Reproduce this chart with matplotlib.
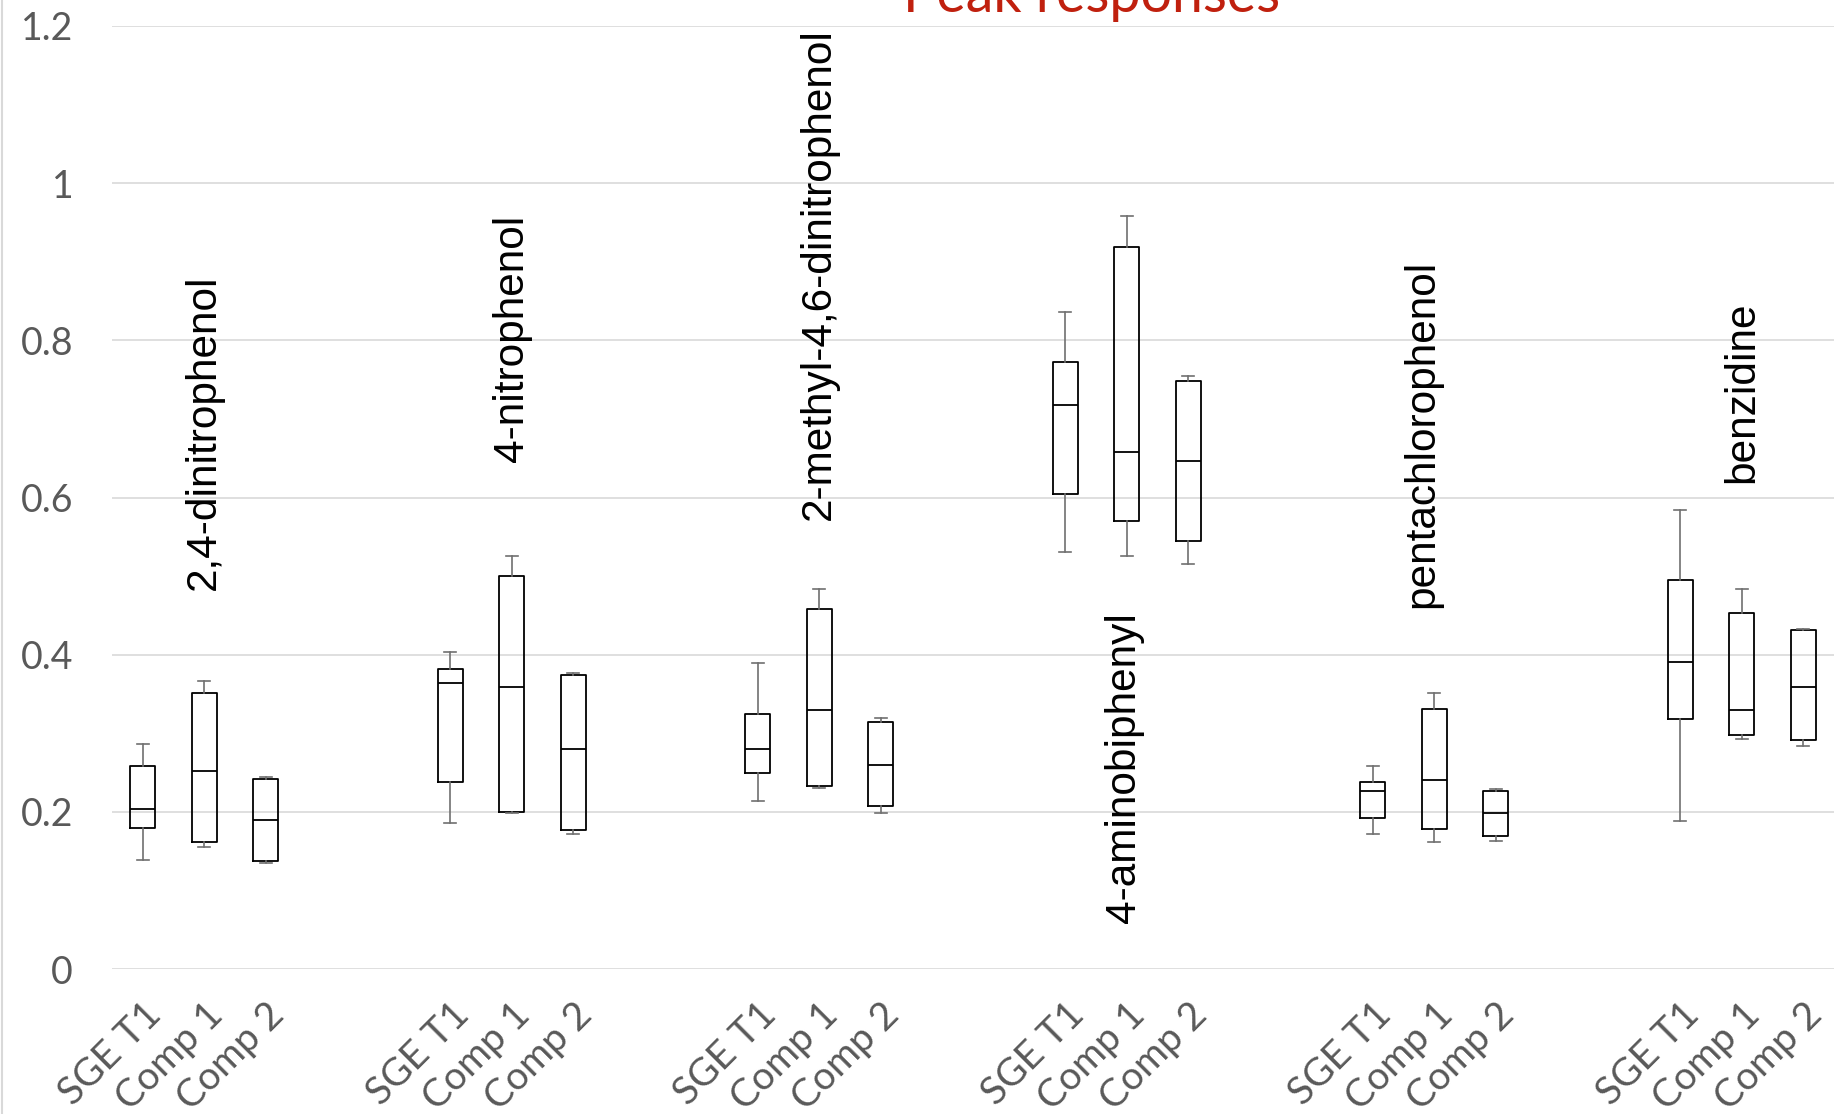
import matplotlib
matplotlib.use("Agg")
import matplotlib.pyplot as plt
from matplotlib.lines import Line2D

plt.rcParams['font.family'] = ['Lato', 'DejaVu Sans']

compounds = ['2,4-dinitrophenol', '4-nitrophenol', '2-methyl-4,6-dinitrophenol',
             '4-aminobiphenyl', 'pentachlorophenol', 'benzidine']
columns = ['SGE T1', 'Comp 1', 'Comp 2']

# five-number summaries, one row per compound, one entry per column
whisker_lo = [[0.139, 0.155, 0.135],
              [0.186, 0.198, 0.172],
              [0.214, 0.230, 0.198],
              [0.531, 0.525, 0.516],
              [0.172, 0.162, 0.163],
              [0.188, 0.293, 0.284]]
quart_1 = [[0.179, 0.161, 0.137],
           [0.238, 0.200, 0.177],
           [0.250, 0.233, 0.208],
           [0.605, 0.570, 0.545],
           [0.192, 0.178, 0.169],
           [0.318, 0.298, 0.292]]
medians = [[0.204, 0.252, 0.190],
           [0.364, 0.359, 0.280],
           [0.280, 0.329, 0.260],
           [0.718, 0.658, 0.646],
           [0.226, 0.240, 0.198],
           [0.391, 0.329, 0.359]]
quart_3 = [[0.258, 0.351, 0.242],
           [0.382, 0.500, 0.374],
           [0.325, 0.458, 0.314],
           [0.772, 0.919, 0.748],
           [0.238, 0.331, 0.226],
           [0.495, 0.453, 0.431]]
whisker_hi = [[0.286, 0.367, 0.244],
              [0.404, 0.525, 0.377],
              [0.389, 0.483, 0.319],
              [0.836, 0.958, 0.754],
              [0.258, 0.351, 0.229],
              [0.584, 0.483, 0.433]]

# where each compound name starts (bottom of the vertical text)
name_y = [0.482, 0.645, 0.572, 0.058, 0.459, 0.619]
name_dx = [0.0, 0.0, 0.0, -0.05, -0.2, 0.0]

W, H = 1843, 1114
fig = plt.figure(figsize=(W / 100, H / 100), dpi=100)
ax = fig.add_axes([112 / W, 1 - 969 / H, (1834 - 112) / W, (969 - 26) / H])

stats, positions, labels = [], [], []
for g in range(len(compounds)):
    for c in range(len(columns)):
        stats.append(dict(whislo=whisker_lo[g][c], q1=quart_1[g][c], med=medians[g][c],
                          q3=quart_3[g][c], whishi=whisker_hi[g][c], fliers=[]))
        positions.append(5 * g + c)
        labels.append(columns[c])

ax.bxp(stats, positions=positions, widths=0.4, capwidths=0.19, showfliers=False,
       boxprops=dict(color='black', lw=1.3),
       medianprops=dict(color='black', lw=1.3),
       whiskerprops=dict(color='#707070', lw=1.2),
       capprops=dict(color='#707070', lw=1.2))

for g, name in enumerate(compounds):
    ax.text(5 * g + 1 + name_dx[g], name_y[g], name, rotation=90, ha='center', va='bottom',
            fontsize=30.5, family=['Liberation Sans', 'DejaVu Sans'], color='black')

ax.set_xlim(-0.5, 27.5)
ax.set_ylim(0, 1.2)
ax.set_yticks([0, 0.2, 0.4, 0.6, 0.8, 1.0, 1.2])
ax.set_yticklabels(['0', '0.2', '0.4', '0.6', '0.8', '1', '1.2'])
ax.set_xticks(positions)
ax.set_xticklabels(labels, rotation=45, ha='right', rotation_mode='anchor')
ax.tick_params(axis='both', length=0, labelcolor='#595959')
ax.tick_params(axis='y', pad=28, labelsize=27)
ax.tick_params(axis='x', pad=20, labelsize=28)
ax.grid(axis='y', color='#d9d9d9', lw=1.2)
ax.set_axisbelow(True)
for s in ax.spines.values():
    s.set_visible(False)

fig.text(1092 / W, 1 - 12 / H, 'Peak responses', ha='center', va='baseline',
         fontsize=40, color='#c0200e')
fig.add_artist(Line2D([2 / W, 2 / W], [0, 1], transform=fig.transFigure,
                      color='#d9d9d9', lw=1.5))

fig.savefig('out.png', dpi=100)
